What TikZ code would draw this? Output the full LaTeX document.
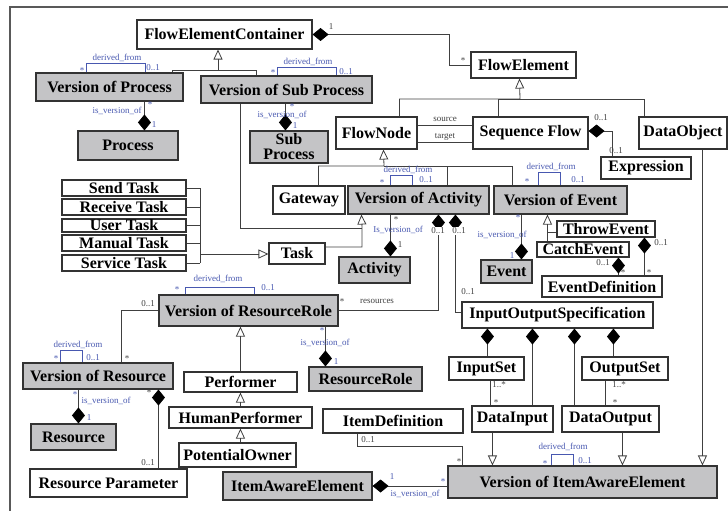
\documentclass[tikz,border=0pt]{standalone}
\usepackage{fontspec}
\setmainfont{Liberation Serif}
\usetikzlibrary{arrows.meta}

\begin{document}
\begin{tikzpicture}[x=1pt, y=-1pt,
  umlbox/.style={draw=black!80, line width=1.1pt, fill=white, inner sep=0pt, font=\fontsize{16}{17}\selectfont\bfseries},
  verbox/.style={umlbox, fill=vergray},
  conn/.style={draw=black!75, line width=0.8pt},
  comp/.style={conn, {Diamond[length=16pt,width=13pt,color=black]}-},
  inh/.style={conn, -{Triangle[open,length=10pt,width=9pt]}},
  der/.style={draw=verblue, line width=0.8pt},
  lab/.style={font=\fontsize{9}{9}\selectfont, text=black!75, inner sep=0.5pt},
  vlab/.style={lab, text=verblue}]

\definecolor{vergray}{RGB}{196,196,198}
\definecolor{verblue}{RGB}{72,88,176}
\useasboundingbox (0,0) rectangle (728,511);

% frame
\draw[black!65, line width=1.2pt] (10,511) -- (10,7) -- (728,7);

% classes
\node[umlbox, minimum width=175pt, minimum height=29pt] (fec) at (224.5,34.5) {FlowElementContainer};
\node[verbox, minimum width=147pt, minimum height=28pt] (vproc) at (109.5,87) {Version of Process};
\node[verbox, minimum width=171pt, minimum height=27pt] (vsub) at (286.5,89.5) {Version of Sub Process};
\node[verbox, minimum width=100pt, minimum height=29pt] (proc) at (128,145.5) {Process};
\node[verbox, minimum width=78pt, minimum height=32pt, align=center, font=\fontsize{16}{15}\selectfont\bfseries] (sub) at (289,147) {Sub\\Process};
\node[umlbox, minimum width=105pt, minimum height=26pt] (fel) at (523.5,65) {FlowElement};
\node[umlbox, minimum width=81pt, minimum height=32pt] (fnode) at (376.5,133) {FlowNode};
\node[umlbox, minimum width=115pt, minimum height=32pt] (seq) at (530.5,133) {Sequence Flow};
\node[umlbox, minimum width=88pt, minimum height=32pt] (dobj) at (683,133) {DataObject};
\node[umlbox, minimum width=90pt, minimum height=22pt] (expr) at (646,168) {Expression};
\node[umlbox, minimum width=72pt, minimum height=28pt] (gate) at (309,200) {Gateway};
\node[verbox, minimum width=141pt, minimum height=28pt] (vact) at (418.5,200) {Version of Activity};
\node[verbox, minimum width=133pt, minimum height=28pt] (vevt) at (560.5,200) {Version of Event};
\node[umlbox, minimum width=98pt, minimum height=16pt] (thr) at (606,229) {ThrowEvent};
\node[umlbox, minimum width=92pt, minimum height=15pt] (cat) at (583,249.5) {CatchEvent};
\node[umlbox, minimum width=120pt, minimum height=21pt] (edef) at (602,286.5) {EventDefinition};
\node[verbox, minimum width=51pt, minimum height=23pt] (evt) at (506.5,271.5) {Event};
\node[verbox, minimum width=71pt, minimum height=26pt] (act) at (374.5,270) {Activity};
\node[umlbox, minimum width=56pt, minimum height=21pt] (task) at (297,253.5) {Task};
\node[umlbox, minimum width=124pt, minimum height=16pt] (send) at (124,188) {Send Task};
\node[umlbox, minimum width=124pt, minimum height=16pt] (recv) at (124,207) {Receive Task};
\node[umlbox, minimum width=124pt, minimum height=13pt] (user) at (124,225.5) {User Task};
\node[umlbox, minimum width=124pt, minimum height=16pt] (manual) at (124,243) {Manual Task};
\node[umlbox, minimum width=124pt, minimum height=16pt] (service) at (124,263) {Service Task};
\node[verbox, minimum width=179pt, minimum height=31pt] (vrr) at (248.5,310.5) {Version of ResourceRole};
\node[umlbox, minimum width=191pt, minimum height=26pt] (ios) at (557.5,315) {InputOutputSpecification};
\node[verbox, minimum width=113pt, minimum height=24pt] (rr) at (365.5,379) {ResourceRole};
\node[verbox, minimum width=150pt, minimum height=26pt] (vres) at (98,376) {Version of Resource};
\node[verbox, minimum width=85pt, minimum height=26pt] (res) at (73.5,437) {Resource};
\node[umlbox, minimum width=157pt, minimum height=28pt] (rpar) at (108.5,483) {Resource Parameter};
\node[umlbox, minimum width=113pt, minimum height=20pt] (perf) at (240.5,382) {Performer};
\node[umlbox, minimum width=143pt, minimum height=21pt] (hperf) at (240.5,417.5) {HumanPerformer};
\node[umlbox, minimum width=117pt, minimum height=24pt] (pown) at (237.5,455) {PotentialOwner};
\node[umlbox, minimum width=75pt, minimum height=23pt] (iset) at (486.5,368.5) {InputSet};
\node[umlbox, minimum width=86pt, minimum height=23pt] (oset) at (625,368.5) {OutputSet};
\node[umlbox, minimum width=81pt, minimum height=26pt] (din) at (512.5,419) {DataInput};
\node[umlbox, minimum width=97pt, minimum height=26pt] (dout) at (610.5,419) {DataOutput};
\node[umlbox, minimum width=140pt, minimum height=24pt] (idef) at (393,421) {ItemDefinition};
\node[verbox, minimum width=149pt, minimum height=28pt] (iae) at (297.5,486) {ItemAwareElement};
\node[verbox, minimum width=269pt, minimum height=32pt] (viae) at (582.5,482) {Version of ItemAwareElement};

% joints
\coordinate (fecj) at (218,70);
\coordinate (felj) at (520,99);
\coordinate (fnj) at (384,166);
\coordinate (actj) at (362,228);
\coordinate (evj) at (548,232);
\coordinate (tbus) at (200,254);

% generalisations
\draw[inh] ([xshift=137pt]vproc.north west) |- (fecj) -- ([xshift=-6.5pt]fec.south);
\draw[conn] ([xshift=56pt]vsub.north west) |- (fecj);
\draw[inh] ([xshift=64pt]fnode.north west) |- (felj) -- ([xshift=49pt]fel.south west);
\draw[conn] ([xshift=26pt]seq.north west) |- (felj);
\draw[conn] ([xshift=6pt]dobj.north west) |- (felj);
\draw[inh] ([xshift=46pt]gate.north west) |- (fnj) -- ([xshift=48pt]fnode.south west);
\draw[conn] ([xshift=100pt]vact.north west) |- (fnj);
\draw[conn] ([xshift=19pt]vevt.north west) |- (fnj);
\draw[inh] ([yshift=6.5pt]task.east) -| (actj) -- ([xshift=14pt]vact.south west);
\draw[conn] ([xshift=40pt]vsub.south west) |- (actj);
\draw[inh] ([xshift=11pt]cat.north west) -- ([xshift=54pt]vevt.south west);
\draw[conn] ([yshift=-3pt]thr.west) -- (evj);
\foreach \t in {send,recv,user,manual,service}
  \draw[conn] (\t.east) -- (\t.east -| tbus);
\draw[conn] (send.east -| tbus) -- (service.east -| tbus);
\draw[inh] (tbus) -- (task.west |- tbus);
\draw[inh] ([xshift=57pt]perf.north west) -- ([xshift=82pt]vrr.south west);
\draw[inh] ([xshift=72pt]hperf.north west) -- ([xshift=57pt]perf.south west);
\draw[inh] ([xshift=62pt]pown.north west) -- ([xshift=72pt]hperf.south west);
\draw[inh] ([xshift=21pt]din.south west) -- ([xshift=45pt]viae.north west);
\draw[inh] ([xshift=61pt]dout.south west) -- ([xshift=175pt]viae.north west);
\draw[inh] ([xshift=64pt]dobj.south west) -- ([xshift=255pt]viae.north west);

% compositions and associations
\draw[comp] (fec.east) -| ([xshift=-21pt]fel.west) -- (fel.west);
\draw[conn] ([yshift=8pt]fnode.east) -- ([yshift=8pt]seq.west);
\draw[conn] ([yshift=-9pt]fnode.east) -- ([yshift=-9pt]seq.west);
\draw[comp] ([yshift=2pt]seq.east) -| ([xshift=12pt]expr.north west);
\draw[comp] ([xshift=91pt]vact.south west) |- (vrr.east);
\draw[comp] ([xshift=108pt]vact.south west) |- ([yshift=3pt]ios.west);
\draw[comp] ([xshift=82pt]cat.south west) -- ([xshift=77pt]edef.north west);
\draw[comp] ([xshift=88pt]thr.south west) -- ([xshift=103pt]edef.north west);
\draw[comp] ([xshift=26pt]ios.south west) -- ([xshift=39pt]iset.north west);
\draw[comp] ([xshift=71pt]ios.south west) -- ([xshift=61pt]din.north west);
\draw[comp] ([xshift=113pt]ios.south west) -- ([xshift=13pt]dout.north west);
\draw[comp] ([xshift=152pt]ios.south west) -- ([xshift=32pt]oset.north west);
\draw[conn] ([xshift=42pt]iset.south west) -- ([xshift=19pt]din.north west);
\draw[conn] ([xshift=24pt]oset.south west) -- ([xshift=44pt]dout.north west);
\draw[conn] ([xshift=35pt]idef.south west) -- ++(0,13) -| ([xshift=15pt]viae.north west);
\draw[conn] ([yshift=0.5pt]vrr.west) -| ([xshift=99pt]vres.north west);
\draw[comp] ([xshift=136pt]vres.south west) -- ([xshift=129pt]rpar.north west);

% is_version_of
\draw[comp] ([xshift=67pt]proc.north west) -- ([xshift=109pt]vproc.south west);
\draw[comp] ([xshift=36pt]sub.north west) -- ([xshift=85pt]vsub.south west);
\draw[comp] ([xshift=52pt]act.north west) -- ([xshift=43pt]vact.south west);
\draw[comp] ([xshift=41pt]evt.north west) -- ([xshift=28pt]vevt.south west);
\draw[comp] ([xshift=17pt]rr.north west) -- ([xshift=167pt]vrr.south west);
\draw[comp] ([xshift=48pt]res.north west) -- ([xshift=56pt]vres.south west);
\draw[comp] (iae.east) -- (iae.east -| viae.west);

% derived_from
\draw[der] ([xshift=51pt]vproc.north west) -- ++(0,-9) -| ([xshift=110pt]vproc.north west);
\draw[der] ([xshift=77pt]vsub.north west) -- ++(0,-8) -| ([xshift=136pt]vsub.north west);
\draw[der] ([xshift=43pt]vact.north west) -- ++(0,-10) -| ([xshift=65pt]vact.north west);
\draw[der] ([xshift=45pt]vevt.north west) -- ++(0,-13) -| ([xshift=67pt]vevt.north west);
\draw[der] ([xshift=27pt]vrr.north west) -- ++(0,-7) -| ([xshift=96pt]vrr.north west);
\draw[der] ([xshift=38pt]vres.north west) -- ++(0,-12) -| ([xshift=60pt]vres.north west);
\draw[der] ([xshift=104pt]viae.north west) -- ++(0,-11) -| ([xshift=126pt]viae.north west);

% labels
\foreach \x/\y [count=\i] in {117/58, 308/62, 408/170, 551/167, 218/279, 78/345, 563/447}
  \node[vlab] (dl\i) at (\x,\y) {derived\_from};
\foreach \x/\y/\t [count=\i] in {117/111/is, 282/115/is, 398/230/Is, 502/235/is, 325/343/is, 106/401/is, 415/494/is}
  \node[vlab] (vl\i) at (\x,\y) {\t\_version\_of};
\foreach \x/\y/\t [count=\i] in {82/71/*, 153/68/0..1, 273/73/*, 346/72/0..1, 150/105/*, 154/125/1,
    292/107/*, 295/126/1, 382/183/*, 426/180/0..1, 527/182/*, 578/180/0..1, 512/256/1, 518/218/*,
    177/290/*, 268/288/0..1, 322/331/*, 336/362/1, 56/359/*, 93/358/0..1, 75/395/*, 89/418/1,
    545/464/*, 585/461/0..1, 392/477/1, 443/482/*}
  \node[vlab] (ml\i) at (\x,\y) {\t};
\foreach \x/\y/\t [count=\i] in {331/27/1, 463/61/*, 445/119/source, 445/137/target, 601/118/0..1,
    616/151/0..1, 468/292/0..1, 342/302/*, 377/301/resources, 396/220/*, 400/245/1,
    603/263/0..1, 623/273/*, 661/243/0..1, 649/273/*, 499/385/1..*, 496/403/*, 619/385/1..*,
    615/403/*, 368/440/0..1, 459/462/*, 148/304/0..1, 127/359/*, 149/393/*, 148/463/0..1}
  \node[lab] (bl\i) at (\x,\y) {\t};
\node[lab, fill=white] (bl26) at (438,231) {0..1};
\node[lab, fill=white] (bl27) at (459,231) {0..1};

\end{tikzpicture}
\end{document}
